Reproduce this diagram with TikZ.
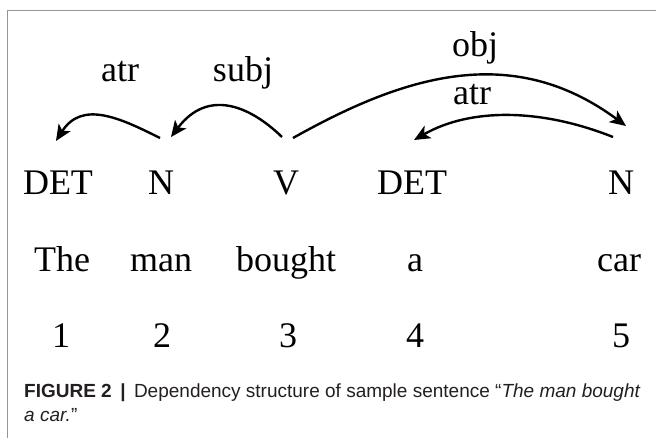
\documentclass[tikz,border=0pt]{standalone}
\usepackage{fontspec}
\setmainfont{Liberation Serif}
\newfontfamily\capfont{Liberation Sans}
\usetikzlibrary{arrows.meta}
\definecolor{framegray}{RGB}{150,150,150}
\definecolor{captext}{RGB}{35,31,32}
\begin{document}
\begin{tikzpicture}[x=1pt,y=-1pt,
  tok/.style={anchor=base,inner sep=0pt,font=\fontsize{36}{40}\selectfont},
  lbl/.style={anchor=base,inner sep=0pt,font=\fontsize{36}{40}\selectfont},
  dep/.style={line width=2.4pt,-{Stealth[length=16pt,width=14pt,inset=4pt]}},
  captxt/.style={anchor=base west,inner sep=0pt,text=captext,font=\capfont\fontsize{19}{24}\selectfont}]
\useasboundingbox (0,0) rectangle (656,438);
\draw[framegray,line width=0.9pt] (656,10) -- (7,10) -- (7,438);
% POS row
\node[tok] (p1) at (58,195) {DET};
\node[tok] (p2) at (161,195) {N};
\node[tok] (p3) at (286,195) {V};
\node[tok] (p4) at (412,195) {DET};
\node[tok] (p5) at (621,195) {N};
% words
\node[tok] (w1) at (62,272) {The};
\node[tok] (w2) at (161,272) {man};
\node[tok] (w3) at (286,272) {bought};
\node[tok] (w4) at (415,272) {a};
\node[tok] (w5) at (619,272) {car};
% numbers
\node[tok] (n1) at (61,348) {1};
\node[tok] (n2) at (162,348) {2};
\node[tok] (n3) at (288,348) {3};
\node[tok] (n4) at (415,348) {4};
\node[tok] (n5) at (621,348) {5};
% arc end points
\coordinate (a1s) at (160,138); \coordinate (a1e) at (56,141);
\coordinate (sbs) at (282,137); \coordinate (sbe) at (171,137);
\coordinate (obs) at (293,138); \coordinate (obe) at (626,126);
\coordinate (a2s) at (613,137); \coordinate (a2e) at (414,140);
% labels
\node[lbl] (l1) at (120,82) {atr};
\node[lbl] (l2) at (243,82) {subj};
\node[lbl] (l3) at (475,57) {obj};
\node[lbl] (l4) at (472,105) {atr};
% arcs
\draw[dep] (a1s) .. controls (120,118) and (82,100) .. (a1e);
\draw[dep] (sbs) .. controls (250,106) and (208,88) .. (sbe);
\draw[dep] (obs) .. controls (400,78) and (510,40) .. (obe);
\draw[dep] (a2s) .. controls (540,108) and (470,108) .. (a2e);
% caption
\node[captxt] (cap1) at (24,397)
 {\textbf{FIGURE 2 \,|\,} Dependency structure of sample sentence “\textit{The man bought}};
\node[captxt] (cap2) at (24,421) {\textit{a car.}”};
\end{tikzpicture}
\end{document}
